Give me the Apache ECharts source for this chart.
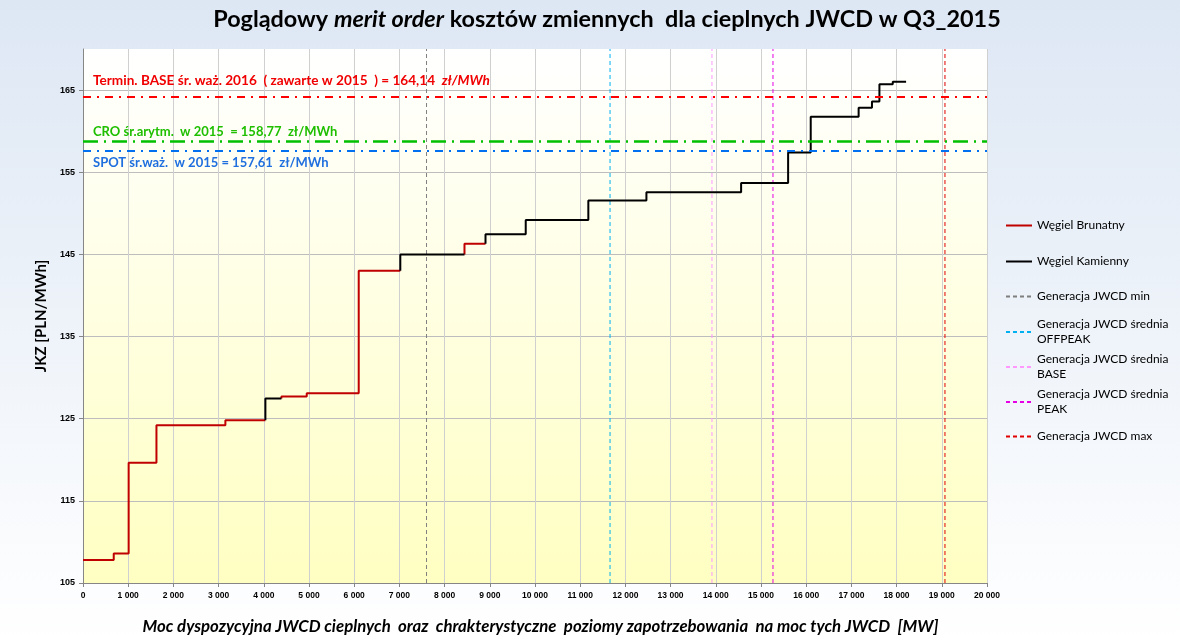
<!DOCTYPE html>
<html><head><meta charset="utf-8">
<script src="https://cdn.jsdelivr.net/npm/echarts@6/dist/echarts.min.js"></script>
<style>html,body{margin:0;padding:0;width:1180px;height:644px;overflow:hidden}#c{width:1180px;height:644px}</style>
</head><body><div id="c"></div>
<script>
// ---- data ----
const blockEnds  = [680, 1010, 1625, 3150, 4035, 4390, 4950, 6100, 7020, 8440, 8905, 9795, 11180, 12465, 14560, 15600, 16100, 17160, 17455, 17620, 17915, 18210];
const blockCosts = [107.8, 108.6, 119.65, 124.2, 124.8, 127.45, 127.7, 128.1, 143.0, 145.0, 146.3, 147.45, 149.2, 151.55, 152.55, 153.7, 157.4, 161.75, 162.85, 163.6, 165.7, 166.0];
const blockFuel  = ['B','B','B','B','B','K','B','B','B','K','B','K','K','K','K','K','K','K','K','K','K','K'];
const fuelNames  = { B: 'Węgiel Brunatny', K: 'Węgiel Kamienny' };
const fuelColors = { B: '#c00000', K: '#000000' };

const demandNames  = ['Generacja JWCD min', 'Generacja JWCD średnia\nOFFPEAK', 'Generacja JWCD średnia\nBASE', 'Generacja JWCD średnia\nPEAK', 'Generacja JWCD max'];
const demandLevels = [7600, 11660, 13915, 15265, 19070];
const demandColors = ['#7f7f7f', '#00b0f0', '#ff99ff', '#e600e6', '#e00000'];

const refValues = [164.14, 158.77, 157.61];
const refColors = ['#ff0000', '#00c000', '#0070f0'];

const xMin = 0, xMax = 20000, xStep = 1000;
const yMin = 105, yMax = 170, yStep = 10;

// ---- build step series (one series per continuous run of a fuel) ----
const stepSeries = [];
let run = null;
for (let i = 0; i < blockEnds.length; i++) {
  const s = i === 0 ? 0 : blockEnds[i - 1];
  const e = blockEnds[i];
  const c = blockCosts[i];
  const f = blockFuel[i];
  if (!run || run.fuel !== f) {
    run = { fuel: f, pts: [] };
    stepSeries.push(run);
    if (i > 0) run.pts.push([s, blockCosts[i - 1]]);
  }
  run.pts.push([s, c]);
  run.pts.push([e, c]);
}

const series = [];
stepSeries.forEach(r => {
  series.push({
    name: fuelNames[r.fuel], type: 'line', data: r.pts, symbol: 'none',
    lineStyle: { color: fuelColors[r.fuel], width: 2 }, itemStyle: { color: fuelColors[r.fuel] },
    z: r.fuel === 'K' ? 4 : 3, silent: true, animation: false
  });
});
demandNames.forEach((n, i) => {
  series.push({
    name: n, type: 'line', data: [[demandLevels[i], yMin], [demandLevels[i], yMax]], symbol: 'none',
    lineStyle: { color: demandColors[i], width: 1, type: [4, 3] }, itemStyle: { color: demandColors[i] },
    z: 2, silent: true, animation: false
  });
});

const lbl = (color, size) => ({ color: color, fontFamily: 'Lato', fontWeight: 'bold', fontSize: size });
series.push({
  name: 'ref', type: 'line', data: [], symbol: 'none', silent: true, animation: false, z: 2,
  markLine: {
    silent: true, symbol: 'none', animation: false,
    data: [
      { yAxis: refValues[0], lineStyle: { color: refColors[0], width: 2, type: [8, 6, 2, 6] },
        label: { show: true, position: 'insideStartTop', distance: [10, 10],
          formatter: '{a|Termin. BASE śr. waż. 2016  ( zawarte w 2015  ) = 164,14  }{b|zł/MWh}',
          rich: { a: lbl('#f00000', 13.6), b: Object.assign(lbl('#f00000', 13.6), { fontStyle: 'italic' }) } } },
      { yAxis: refValues[1], lineStyle: { color: refColors[1], width: 2.5, type: [15, 6, 2, 6] },
        label: { show: true, position: 'insideStartTop', distance: [10, 3],
          formatter: '{a|CRO śr.arytm.  w 2015  = 158,77  zł/MWh}', rich: { a: lbl('#1fbf00', 13) } } },
      { yAxis: refValues[2], lineStyle: { color: refColors[2], width: 2, type: [8, 6, 2, 6] },
        label: { show: true, position: 'insideStartBottom', distance: [10, 6],
          formatter: '{a|SPOT śr.waż.  w 2015 = 157,61  zł/MWh}', rich: { a: lbl('#1f6fdf', 13) } } }
    ]
  }
});

// ---- legends: one per item so positions follow reference ----
const legendItems = [
  { name: fuelNames.B, top: 218, two: false },
  { name: fuelNames.K, top: 254, two: false },
  { name: demandNames[0], top: 289, two: false },
  { name: demandNames[1], top: 310, two: true },
  { name: demandNames[2], top: 345, two: true },
  { name: demandNames[3], top: 380, two: true },
  { name: demandNames[4], top: 429, two: false }
];
const legends = legendItems.map(it => ({
  data: [it.name], left: 1005, top: it.top, orient: 'vertical', itemWidth: 26, itemHeight: 14, itemGap: 0,
  selectedMode: false, padding: 0,
  itemStyle: { opacity: 0 },
  textStyle: { fontFamily: 'Lato', fontSize: 12, color: '#000', lineHeight: 15, padding: it.two ? [14, 0, 0, 0] : 0 }
}));

const fmtThousands = v => String(v).replace(/\B(?=(\d{3})+(?!\d))/g, ' ');

const option = {
  animation: false,
  backgroundColor: { type: 'linear', x: 0, y: 0, x2: 0, y2: 1, colorStops: [{ offset: 0, color: '#dde7f4' }, { offset: 1, color: '#ffffff' }] },
  title: {
    text: '{a|Poglądowy }{b|merit order}{a| kosztów zmiennych  dla cieplnych JWCD w Q3_2015}',
    left: 602, top: 3, textAlign: 'center',
    textStyle: { rich: {
      a: { fontFamily: 'Lato', fontWeight: 'bold', fontSize: 23.4, color: '#000' },
      b: { fontFamily: 'Lato', fontWeight: 'bold', fontStyle: 'italic', fontSize: 23.4, color: '#000' } } }
  },
  legend: legends,
  grid: {
    left: 83, right: 193, top: 49, bottom: 61, show: true, borderWidth: 0,
    backgroundColor: { type: 'linear', x: 0, y: 0, x2: 0, y2: 1, colorStops: [{ offset: 0, color: '#ffffff' }, { offset: 0.1, color: '#fffffa' }, { offset: 1, color: '#ffffc2' }] }
  },
  xAxis: {
    type: 'value', min: xMin, max: xMax, interval: xStep,
    name: 'Moc dyspozycyjna JWCD cieplnych  oraz  chrakterystyczne  poziomy zapotrzebowania  na moc tych JWCD  [MW]',
    nameLocation: 'middle', nameGap: 35,
    nameTextStyle: { fontFamily: 'Lato', fontWeight: 'bold', fontStyle: 'italic', fontSize: 16.8, color: '#000', padding: [0, 0, 0, 11] },
    axisLine: { show: true, lineStyle: { color: '#868686', width: 1 } },
    axisTick: { show: true, length: 4, lineStyle: { color: '#868686' } },
    axisLabel: { formatter: fmtThousands, fontFamily: 'Liberation Sans', fontWeight: 'bold', fontSize: 8.5, color: '#000', margin: 8 },
    splitLine: { show: true, lineStyle: { color: '#d0d0d0', width: 1 } }
  },
  yAxis: {
    type: 'value', min: yMin, max: yMax, interval: yStep,
    name: 'JKZ [PLN/MWh]', nameLocation: 'middle', nameGap: 32,
    nameTextStyle: { fontFamily: 'Lato', fontWeight: 'bold', fontSize: 15, color: '#000' },
    axisLine: { show: true, lineStyle: { color: '#868686', width: 1 } },
    axisTick: { show: true, length: 4, lineStyle: { color: '#868686' } },
    axisLabel: { showMaxLabel: false, fontFamily: 'Liberation Sans', fontWeight: 'bold', fontSize: 9, color: '#000', margin: 8 },
    splitLine: { show: true, showMaxLine: false, lineStyle: { color: '#bdbdbd', width: 1 } }
  },
  series: series
};
const chart = echarts.init(document.getElementById('c'), null, { renderer: 'canvas' });
chart.setOption(option);
</script></body></html>
